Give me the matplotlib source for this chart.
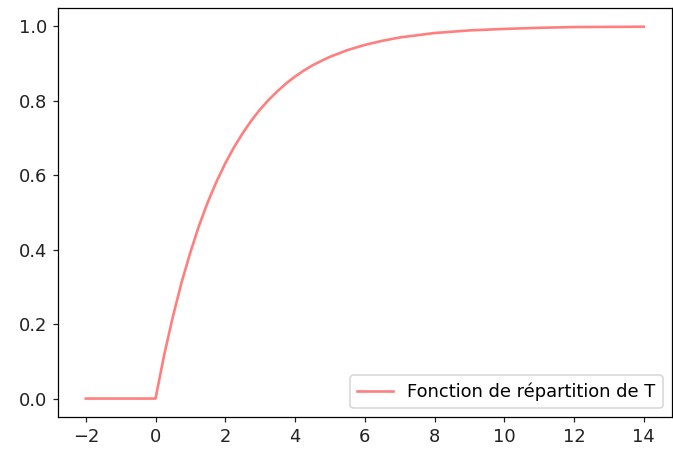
import matplotlib
matplotlib.use("Agg")
import matplotlib.pyplot as plt

# values
t = [-2, -1, 0, 0.25, 0.5, 0.75, 1, 1.25, 1.5, 1.75, 2, 2.25, 2.5, 2.75, 3,
     3.25, 3.5, 3.75, 4, 4.25, 4.5, 4.75, 5, 5.5, 6, 6.5, 7, 7.5, 8, 9, 10,
     11, 12, 13, 14]
F = [0, 0, 0, 0.118, 0.221, 0.313, 0.393, 0.465, 0.528, 0.583, 0.632, 0.675,
     0.713, 0.747, 0.777, 0.803, 0.826, 0.847, 0.865, 0.881, 0.895, 0.907,
     0.918, 0.936, 0.950, 0.961, 0.970, 0.976, 0.982, 0.989, 0.993, 0.996,
     0.998, 0.9985, 0.999]

plt.rcParams["font.size"] = 11.5
plt.rcParams["lines.linewidth"] = 1.7

# the reference looks like a 6x4 figure rendered at ~112 dpi
fig = plt.figure(figsize=(673 / 112, 450 / 112), dpi=112)
ax = fig.add_axes([0.086, 0.073, 0.912, 0.909])
ax.plot(t, F, color="red", alpha=0.5, label="Fonction de répartition de T")
ax.set_xticks([-2, 0, 2, 4, 6, 8, 10, 12, 14])
ax.set_yticks([0.0, 0.2, 0.4, 0.6, 0.8, 1.0])
ax.tick_params(colors="#222222")
ax.legend(loc="lower right")
fig.savefig("out.png", dpi=112)
